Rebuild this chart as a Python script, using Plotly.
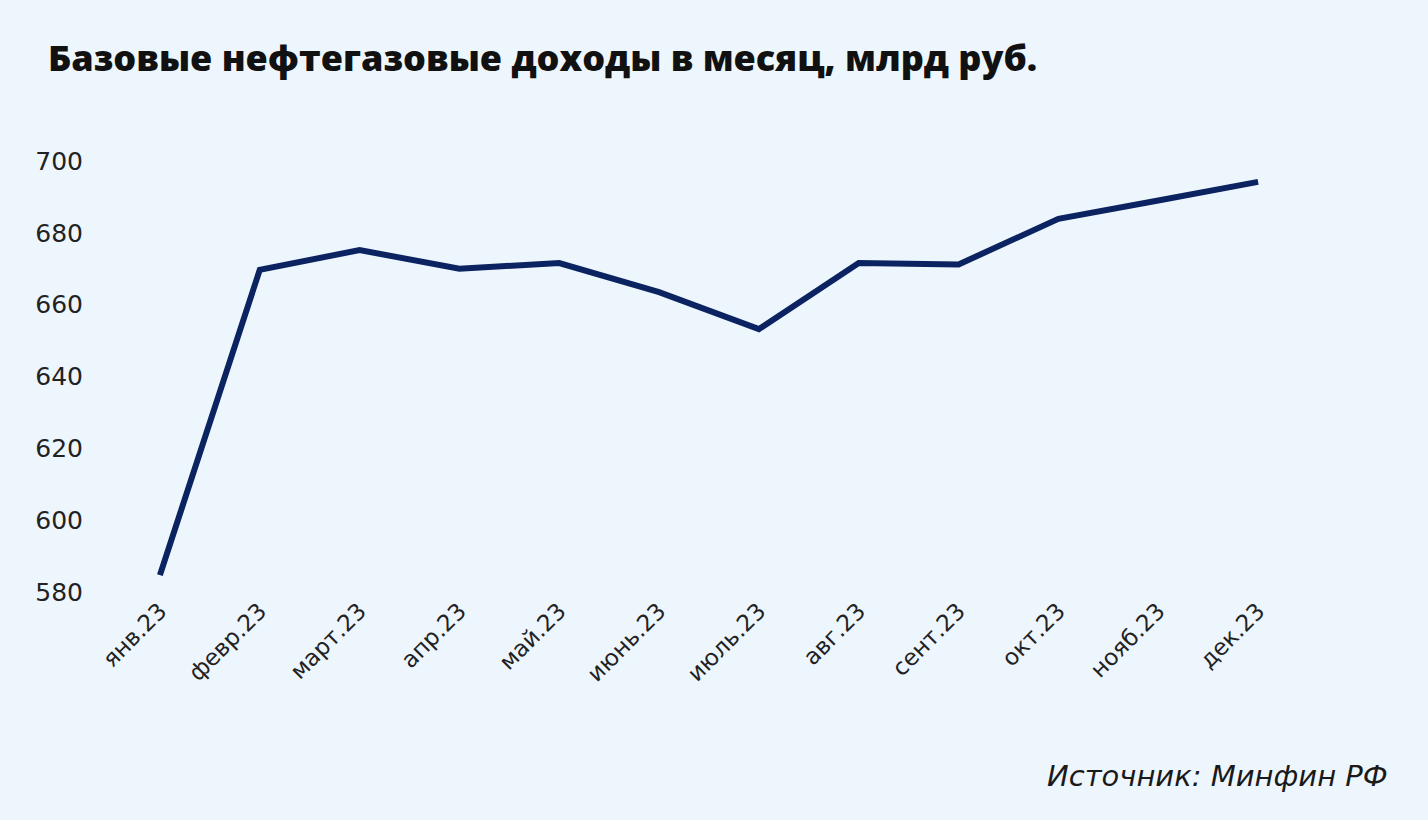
import plotly.graph_objects as go

months = ["янв.23", "февр.23", "март.23", "апр.23", "май.23", "июнь.23",
          "июль.23", "авг.23", "сент.23", "окт.23", "нояб.23", "дек.23"]
revenue = [584.7, 669.7, 675.2, 670.0, 671.6, 663.5, 653.2, 671.6, 671.2, 683.9, 689.0, 694.2]
y_ticks = [580, 600, 620, 640, 660, 680, 700]

title_text = "Базовые нефтегазовые доходы в месяц, млрд руб."
source_text = "Источник: Минфин РФ"

W, H = 1428, 820
bg = "#EEF6FD"

fig = go.Figure()
fig.add_trace(go.Scatter(
    x=months, y=revenue, mode="lines",
    line=dict(color="#0B2461", width=6),
    hoverinfo="x+y",
))

fig.update_layout(
    width=W, height=H,
    paper_bgcolor=bg, plot_bgcolor=bg,
    margin=dict(l=110, r=120, t=161, b=H - 592),
    showlegend=False,
    title=dict(
        text=title_text, xref="container", yref="container",
        x=48 / W, xanchor="left", y=1 - 58 / H, yanchor="middle",
        font=dict(family="Open Sans", size=36, color="#111111", weight=800),
    ),
    annotations=[dict(
        text=source_text, xref="paper", yref="paper",
        x=(1390 - 110) / (W - 230), xanchor="right",
        y=(592 - 776) / 431, yanchor="middle",
        showarrow=False,
        font=dict(family="DejaVu Sans", size=29, color="#1a1a1a", style="italic"),
    )],
)

fig.update_xaxes(
    type="category", range=[-0.5, 11.5],
    showgrid=False, zeroline=False, showline=False, ticks="",
    tickangle=-45,
    tickfont=dict(family="DejaVu Sans", size=23, color="#222222"),
)
fig.update_yaxes(
    range=[580, 700], tickvals=y_ticks,
    showgrid=False, zeroline=False, showline=False, ticks="",
    ticklabelstandoff=26,
    tickfont=dict(family="DejaVu Sans", size=25, color="#222222"),
)

fig.write_html("out.html")
